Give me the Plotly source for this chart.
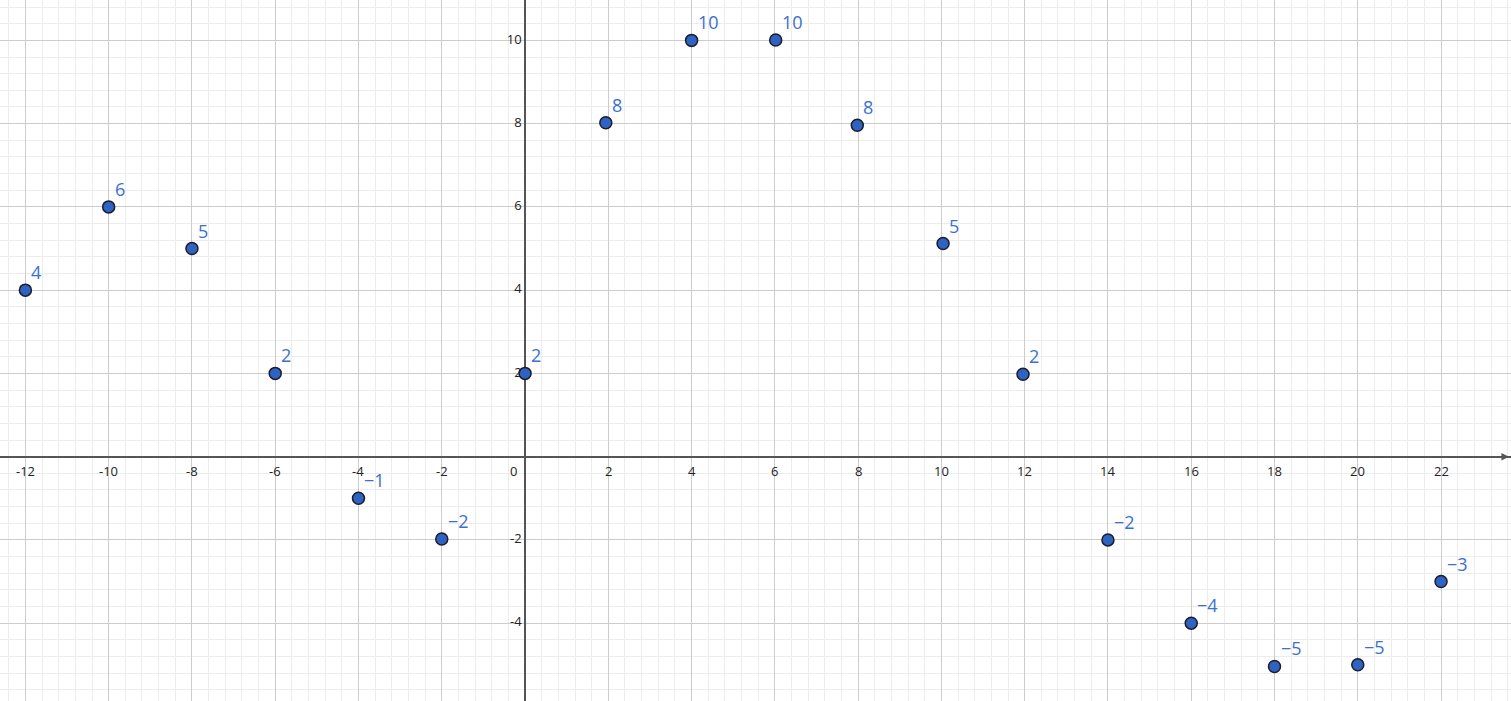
import plotly.graph_objects as go

# Data points (x, y) and their labels
px = [-12, -10, -8, -6, -4, -2, 0, 1.94, 4, 6.02, 7.98, 10.04, 11.96, 14, 16, 18, 20, 22]
py = [4, 6, 5, 2, -1, -1.98, 2, 8.02, 10, 10.01, 7.96, 5.12, 1.98, -2, -4, -5.04, -5.0, -3]
point_labels = ["4", "6", "5", "2", "−1", "−2", "2", "8", "10", "10", "8", "5", "2",
                "−2", "−4", "−5", "−5", "−3"]

# Axis tick labels
x_ticks = [-12, -10, -8, -6, -4, -2, 2, 4, 6, 8, 10, 12, 14, 16, 18, 20, 22]
y_ticks = [-6, -4, -2, 2, 4, 6, 8, 10]

x_range = [-12.61, 23.68]
y_range = [-5.87, 10.97]

TICK_FONT = dict(family="Open Sans", size=13, color="#222222")

fig = go.Figure()

# points
fig.add_trace(go.Scatter(
    x=px, y=py, mode="markers",
    marker=dict(size=12, color="#2f63c2", line=dict(color="#1c1c2a", width=1.5)),
    showlegend=False, cliponaxis=False))

# y tick labels along the y axis (text trace so the partly visible -6 is kept)
fig.add_trace(go.Scatter(
    x=[0] * len(y_ticks), y=y_ticks, mode="text",
    text=[str(v) + " " for v in y_ticks], textposition="middle left",
    textfont=TICK_FONT, hoverinfo="skip", showlegend=False, cliponaxis=False))

# x tick labels along the x axis
for v in x_ticks:
    fig.add_annotation(x=v, y=0, xref="x", yref="y", text=str(v), showarrow=False,
                       xanchor="center", yanchor="top", yshift=-3, font=TICK_FONT)
# origin label
fig.add_annotation(x=0, y=0, xref="x", yref="y", text="0", showarrow=False,
                   xanchor="right", yanchor="top", xshift=-6, yshift=-3, font=TICK_FONT)

# point labels
for xv, yv, lab in zip(px, py, point_labels):
    fig.add_annotation(x=xv, y=yv, xref="x", yref="y", text=lab, showarrow=False,
                       xanchor="left", yanchor="middle", xshift=4, yshift=18,
                       font=dict(family="Open Sans", size=18, color="#3b70cf"))

# arrow at right end of x axis
fig.add_annotation(x=x_range[1] - 0.05, y=0, ax=-14, ay=0, xref="x", yref="y",
                   showarrow=True, arrowhead=2, arrowsize=1, arrowwidth=1.5,
                   arrowcolor="#555555", text="")

axis_common = dict(
    showticklabels=False, ticks="", showline=False,
    dtick=2, tick0=0,
    showgrid=True, gridcolor="#cccccc", gridwidth=1,
    zeroline=True, zerolinecolor="#555555", zerolinewidth=1.5,
    minor=dict(dtick=0.4, tick0=0, showgrid=True, gridcolor="#ececec", gridwidth=1),
    fixedrange=True,
)

fig.update_xaxes(range=x_range, **axis_common)
fig.update_yaxes(range=y_range, **axis_common)

fig.update_layout(
    width=1511, height=701,
    margin=dict(l=0, r=0, t=0, b=0),
    paper_bgcolor="white", plot_bgcolor="white",
    showlegend=False,
)

fig.write_html("out.html", config={"displayModeBar": False},
               post_script="document.body.style.margin='0';document.body.style.overflow='hidden';")
